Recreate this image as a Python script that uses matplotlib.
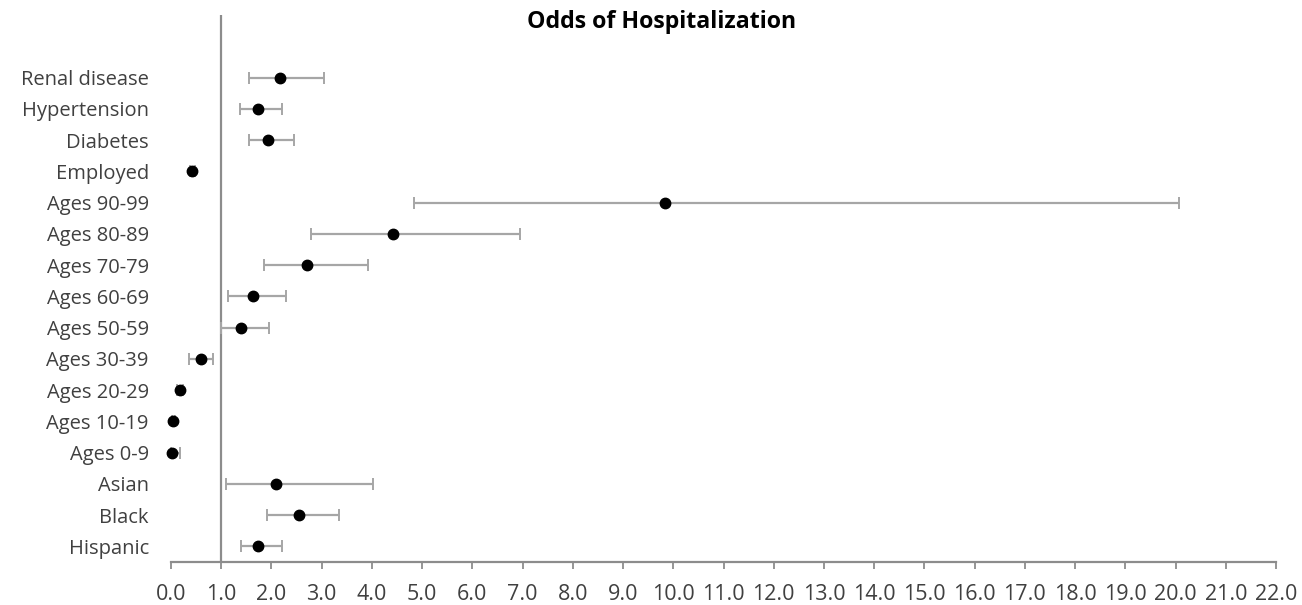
import matplotlib
matplotlib.use("Agg")
import matplotlib.pyplot as plt
import numpy as np

plt.rcParams['font.family'] = ['Open Sans', 'DejaVu Sans']

# Predictors, listed top to bottom
labels = ["Renal disease", "Hypertension", "Diabetes", "Employed",
          "Ages 90-99", "Ages 80-89", "Ages 70-79", "Ages 60-69",
          "Ages 50-59", "Ages 30-39", "Ages 20-29", "Ages 10-19",
          "Ages 0-9", "Asian", "Black", "Hispanic"]
odds = [2.17, 1.74, 1.94, 0.42, 9.84, 4.41, 2.70, 1.63,
        1.39, 0.59, 0.17, 0.04, 0.01, 2.10, 2.54, 1.74]
ci_low = [1.56, 1.37, 1.56, 0.37, 4.83, 2.78, 1.86, 1.14,
          1.00, 0.36, 0.12, 0.02, 0.00, 1.10, 1.91, 1.39]
ci_high = [3.05, 2.20, 2.44, 0.48, 20.07, 6.95, 3.93, 2.29,
           1.95, 0.84, 0.24, 0.08, 0.18, 4.02, 3.35, 2.20]
x_ticks = np.arange(0, 23, 1.0)

n = len(labels)
ypos = np.arange(n)[::-1] + 0.5
odds_a = np.array(odds)
err = np.vstack([odds_a - np.array(ci_low), np.array(ci_high) - odds_a])

fig = plt.figure(figsize=(13.02, 6.05), dpi=100)
ax = fig.add_axes([171 / 1302, 1 - 562 / 605, (1276 - 171) / 1302, (562 - 15) / 605])

ax.axvline(1.0, color="#8c8c8c", lw=1.6, zorder=1)
eb = ax.errorbar(odds_a, ypos, xerr=err, fmt="none", ecolor="#a6a6a6",
                 elinewidth=1.6, capsize=4, capthick=1.4, zorder=2)
for artist in eb.get_children():
    artist.set_clip_on(False)
ax.plot(odds_a, ypos, "o", color="black", markersize=7.5, zorder=3, clip_on=False)

ax.set_xlim(0, 22)
ax.set_ylim(0, 17.5)
ax.set_xticks(x_ticks)
ax.set_xticklabels([f"{v:.1f}" for v in x_ticks], fontsize=15.5, color="#404040")
ax.set_yticks(ypos)
ax.set_yticklabels(labels, fontsize=14.5, color="#404040")
ax.tick_params(axis="y", length=0, pad=16)
ax.tick_params(axis="x", length=5, width=1.3, color="#8c8c8c", direction="out", pad=11)

for side in ("top", "right", "left"):
    ax.spines[side].set_visible(False)
ax.spines["bottom"].set_color("#8c8c8c")
ax.spines["bottom"].set_linewidth(1.6)

fig.text(662 / 1302, 1 - 22 / 605, "Odds of Hospitalization", ha="center", va="center",
         fontsize=16.7, fontweight="bold", color="black")

fig.savefig("out.png", dpi=100)
